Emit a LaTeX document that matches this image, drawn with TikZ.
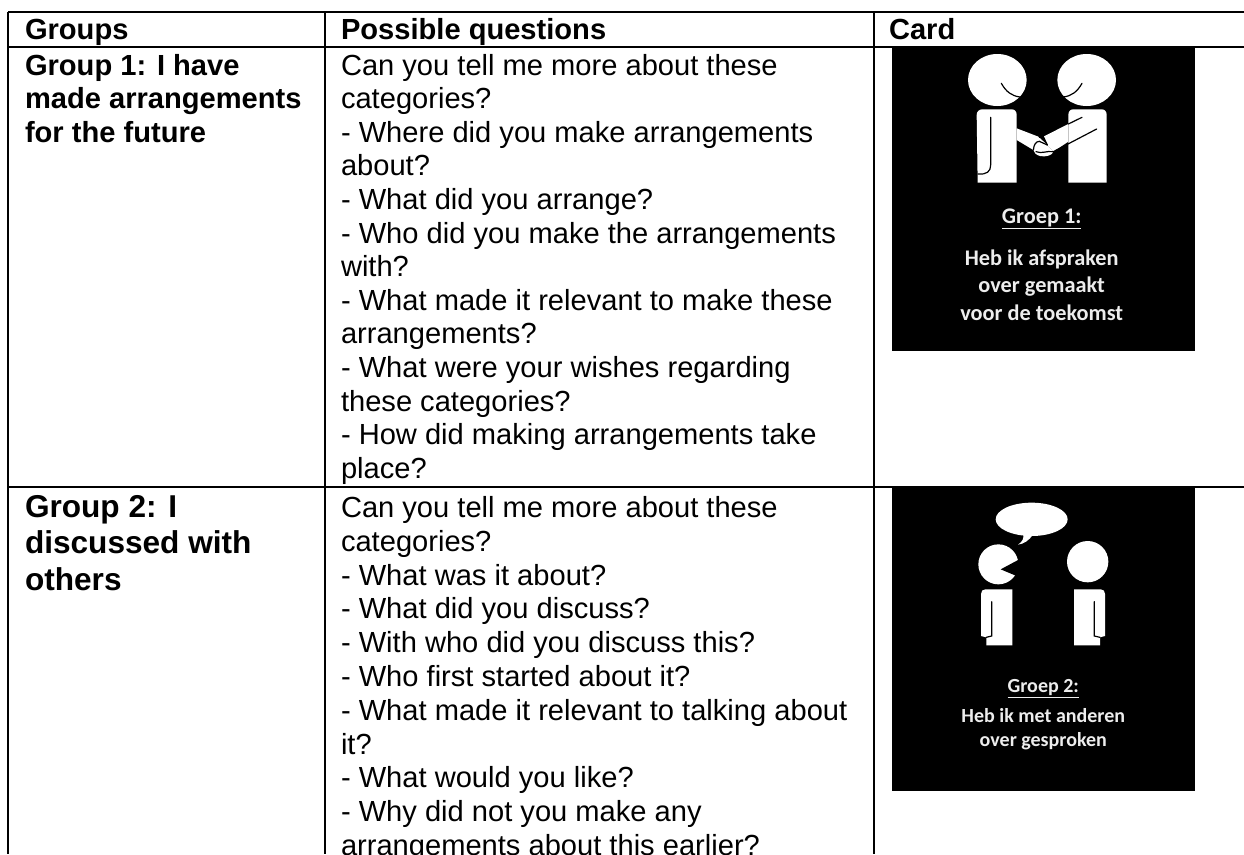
\documentclass[tikz,border=0pt]{standalone}
\usepackage{fontspec}
\setmainfont{Liberation Sans}
\newfontfamily\cardfont{Carlito}
\tikzset{
  rule/.style={line width=2pt,black},
  txt/.style={anchor=base west,inner sep=0pt,outer sep=0pt,font=\fontsize{29.1}{33}\selectfont},
  hd/.style={txt,font=\fontsize{29.1}{33}\selectfont\bfseries},
  bighd/.style={txt,font=\fontsize{31.6}{36}\selectfont\bfseries},
  cardbg/.style={fill=black,draw=none},
  fig/.style={fill=white,draw=none},
  figline/.style={draw=black,line width=1.2pt,line cap=round},
  cardtxt/.style={anchor=base,inner sep=0pt,text=white!93!black,font=\cardfont\bfseries\fontsize{22.3}{26}\selectfont},
  cardtxtb/.style={cardtxt,font=\cardfont\bfseries\fontsize{20}{24}\selectfont},
  zoomed/.style={x=0.33333pt,y=-0.33333pt},
}
\begin{document}
\begin{tikzpicture}[x=1pt,y=-1pt]
\useasboundingbox (0,0) rectangle (1244,854);
\clip (0,0) rectangle (1244,854);
\fill[white] (0,0) rectangle (1244,854);
% card backgrounds
\fill[cardbg] (892,47) rectangle (1195,351);
\fill[cardbg] (892,487) rectangle (1195,791);
% rules
\coordinate (tl) at (8,12); \coordinate (tr) at (1244,12);
\coordinate (hl) at (8,47); \coordinate (hr) at (1244,47);
\coordinate (ml) at (8,487); \coordinate (mr) at (1244,487);
\coordinate (bl) at (8,854); \coordinate (c1t) at (325,12); \coordinate (c1b) at (325,854);
\coordinate (c2t) at (874,12); \coordinate (c2b) at (874,854);
\draw[rule] (tl)--(tr); \draw[rule] (hl)--(hr); \draw[rule] (ml)--(mr);
\draw[rule] (tl)--(bl); \draw[rule] (c1t)--(c1b); \draw[rule] (c2t)--(c2b);
% header
\node[hd] (h1) at (25,39) {Groups};
\node[hd] (h2) at (341,39) {Possible questions};
\node[hd] (h3) at (889,39) {Card};
% group 1
\node[hd] (g1a) at (25,75) {Group 1: I have};
\node[hd] (g1b) at (25,108.6) {made arrangements};
\node[hd] (g1c) at (25,142.2) {for the future};
\node[txt] (q01) at (341,75) {Can you tell me more about these};
\node[txt] (q02) at (341,108.6) {categories?};
\node[txt] (q03) at (341,142.2) {- Where did you make arrangements};
\node[txt] (q04) at (341,175.8) {about?};
\node[txt] (q05) at (341,209.4) {- What did you arrange?};
\node[txt] (q06) at (341,243) {- Who did you make the arrangements};
\node[txt] (q07) at (341,276.6) {with?};
\node[txt] (q08) at (341,310.2) {- What made it relevant to make these};
\node[txt] (q09) at (341,343.8) {arrangements?};
\node[txt] (q10) at (341,377.4) {- What were your wishes regarding};
\node[txt] (q11) at (341,411) {these categories?};
\node[txt] (q12) at (341,444.6) {- How did making arrangements take};
\node[txt] (q13) at (341,478.2) {place?};
% group 2
\node[bighd] (g2a) at (25,517) {Group 2: I};
\node[bighd] (g2b) at (25,553.5) {discussed with};
\node[bighd] (g2c) at (25,590) {others};
\node[txt] (r01) at (341,517.5) {Can you tell me more about these};
\node[txt] (r02) at (341,551.3) {categories?};
\node[txt] (r03) at (341,585.1) {- What was it about?};
\node[txt] (r04) at (341,618.9) {- What did you discuss?};
\node[txt] (r05) at (341,652.7) {- With who did you discuss this?};
\node[txt] (r06) at (341,686.5) {- Who first started about it?};
\node[txt] (r07) at (341,720.3) {- What made it relevant to talking about};
\node[txt] (r08) at (341,754.1) {it?};
\node[txt] (r09) at (341,787.9) {- What would you like?};
\node[txt] (r10) at (341,821.7) {- Why did not you make any};
\node[txt] (r11) at (341,855) {arrangements about this earlier?};
% card 1 figure
\begin{scope}[shift={(880,0)},zoomed]
\fill[fig] (352,240) ellipse [x radius=88,y radius=78];
\fill[fig] (620,240) ellipse [x radius=88,y radius=78];
\draw[figline] (364,250) .. controls (378,275) and (395,288) .. (420,291);
\draw[figline] (606,250) .. controls (592,275) and (575,288) .. (550,291);
% bodies
\fill[fig] (290,345) .. controls (290,335) and (297,328) .. (307,328) -- (395,328) .. controls (405,328) and (410,335) .. (410,345) -- (410,548) -- (293,548) -- cycle;
\fill[fig] (565,345) .. controls (565,335) and (570,328) .. (580,328) -- (665,328) .. controls (675,328) and (680,335) .. (680,345) -- (680,548) -- (565,548) -- cycle;
\draw[figline] (332,352) -- (332,495) .. controls (332,515) and (320,524) .. (294,522);
% arms
\fill[fig] (410,385) -- (475,410) -- (502,435) -- (520,455) .. controls (518,466) and (495,472) .. (480,468) .. controls (468,465) and (462,458) .. (460,450) -- (410,420) -- cycle;
\fill[fig] (565,372) -- (490,410) -- (502,435) -- (520,455) -- (565,425) -- cycle;
\draw[figline] (565,372) -- (606,352);
\draw[figline] (520,455) -- (650,387);
\draw[figline] (460,450) .. controls (462,432) and (468,425) .. (478,424) -- (502,435);
\draw[figline] (478,412) -- (490,410) -- (502,435);
\draw[figline] (468,455) .. controls (485,462) and (500,452) .. (518,455);
\end{scope}
% card 2 figure
\begin{scope}[shift={(880,470)},zoomed]
\fill[fig] (455,148) ellipse [x radius=108,y radius=50];
\fill[fig] (430,190) .. controls (432,205) and (428,215) .. (414,224) .. controls (432,222) and (448,210) .. (458,195) -- cycle;
\fill[fig] (355,283) circle [radius=60];
\fill[cardbg] (362,298) -- (418,268) -- (440,250) -- (440,330) -- (405,316) -- cycle;
\fill[fig] (623,275) circle [radius=62];
\fill[fig] (303,372) .. controls (303,363) and (308,358) .. (316,358) -- (397,358) -- (397,526) -- (319,526) -- (319,502) -- (303,498) -- cycle;
\fill[fig] (582,358) -- (662,358) .. controls (670,358) and (675,363) .. (675,372) -- (675,498) -- (660,502) -- (660,526) -- (582,526) -- cycle;
\draw[figline] (335,395) -- (335,498) -- (319,502);
\draw[figline] (643,395) -- (643,498) -- (660,502);
\end{scope}
% card text
\node[cardtxt] (c1a) at (1041.7,223.3) {\underline{Groep 1:}};
\node[cardtxt] (c1b) at (1041.7,265) {Heb ik afspraken};
\node[cardtxt] (c1c) at (1041.7,292.7) {over gemaakt};
\node[cardtxt] (c1d) at (1041.7,320) {voor de toekomst};
\node[cardtxtb] (c2a) at (1043.3,692.7) {\underline{Groep 2:}};
\node[cardtxtb] (c2b) at (1043.3,722.7) {Heb ik met anderen};
\node[cardtxtb] (c2c) at (1043.3,746.7) {over gesproken};
\end{tikzpicture}
\end{document}
